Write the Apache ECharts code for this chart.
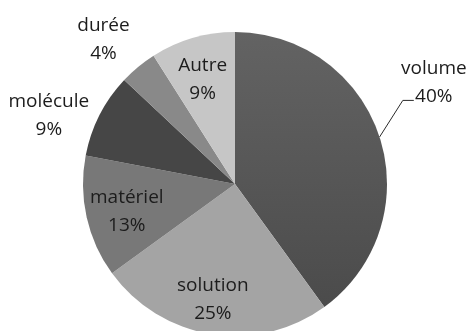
<!DOCTYPE html>
<html>
<head>
<meta charset="utf-8">
<script src="https://cdn.jsdelivr.net/npm/echarts@6/dist/echarts.min.js"></script>
<style>
html, body { margin: 0; padding: 0; background: #fff; }
#chart { width: 467px; height: 331px; }
</style>
</head>
<body>
<div id="chart"></div>
<script>
// données du camembert
const categories = ['volume', 'solution', 'matériel', 'molécule', 'durée', 'Autre'];
const shares = [40, 25, 13, 9, 4, 9];

// style : où va chaque étiquette, couleurs des parts
const labelPlace = ['line', 'inner', 'inner', 'outer', 'outer', 'inner'];
const sliceColors = [null, '#a4a4a4', '#787878', '#464646', '#898989', '#c6c6c6'];
const innerNudge = { 1: [-4, 1], 2: [5, 2], 5: [0, 7] };
const outerNudge = { 3: [-8, 22], 4: [-4, 10] };

const textStyle = {
    fontFamily: 'Open Sans',
    fontSize: 19,
    lineHeight: 28,
    color: '#1c1c1c',
    align: 'center',
    width: 84
};
const fmt = '{t|{b}}\n{t|{d}%}';

const volumeFill = new echarts.graphic.LinearGradient(0, 0, 0, 1, [
    { offset: 0, color: '#636363' },
    { offset: 1, color: '#4b4b4b' }
]);

// déplace une étiquette de (dx, dy) à partir de sa position par défaut
function nudge(table) {
    return function (p) {
        const o = table[p.dataIndex];
        if (!o) return {};
        const r = p.labelRect;
        let x = r.x + r.width / 2;
        if (p.align === 'left') x = r.x;
        if (p.align === 'right') x = r.x + r.width;
        return { x: x + o[0], y: r.y + r.height / 2 + o[1] };
    };
}

function pieData(place, colorFn) {
    return categories.map(function (name, i) {
        return {
            name: name,
            value: shares[i],
            itemStyle: { color: colorFn(i) },
            label: { show: labelPlace[i] === place },
            labelLine: { show: labelPlace[i] === place }
        };
    });
}

const center = [235, 184];

let option = {
    animation: false,
    series: [
        {
            // camembert visible + étiquette "volume" avec trait
            type: 'pie',
            center: center,
            radius: 152,
            startAngle: 90,
            clockwise: true,
            avoidLabelOverlap: false,
            silent: true,
            emphasis: { disabled: true },
            itemStyle: { borderWidth: 0 },
            label: {
                position: 'outside',
                formatter: fmt,
                rich: { t: textStyle }
            },
            labelLine: {
                length: 15,
                length2: 10,
                lineStyle: { color: '#2a2a2a', width: 1 }
            },
            labelLayout: function (p) {
                if (p.dataIndex !== 0) return {};
                const r = p.labelRect;
                const cx = r.x + r.width / 2 - 17;
                const cy = r.y + r.height / 2 - 50;
                const start = p.labelLinePoints[0];
                const endX = cx - 20, lineY = cy + 18;
                return {
                    x: cx - r.width / 2,
                    y: cy,
                    labelLinePoints: [start, [endX - 11, lineY], [endX, lineY]]
                };
            },
            data: pieData('line', function (i) { return i === 0 ? volumeFill : sliceColors[i]; })
        },
        {
            // étiquettes à l'intérieur des parts
            type: 'pie',
            center: center,
            radius: 226,
            startAngle: 90,
            avoidLabelOverlap: false,
            silent: true,
            emphasis: { disabled: true },
            label: {
                position: 'inside',
                formatter: fmt,
                rich: { t: textStyle }
            },
            labelLine: { show: false },
            labelLayout: nudge(innerNudge),
            data: pieData('inner', function () { return 'rgba(0,0,0,0)'; })
        },
        {
            // étiquettes hors du camembert, sans trait
            type: 'pie',
            center: center,
            radius: 394,
            startAngle: 90,
            avoidLabelOverlap: false,
            silent: true,
            emphasis: { disabled: true },
            label: {
                position: 'inside',
                formatter: fmt,
                rich: { t: textStyle }
            },
            labelLine: { show: false },
            labelLayout: nudge(outerNudge),
            data: pieData('outer', function () { return 'rgba(0,0,0,0)'; })
        }
    ]
};

var myChart = echarts.init(document.getElementById('chart'));
myChart.setOption(option, true);
</script>
</body>
</html>
